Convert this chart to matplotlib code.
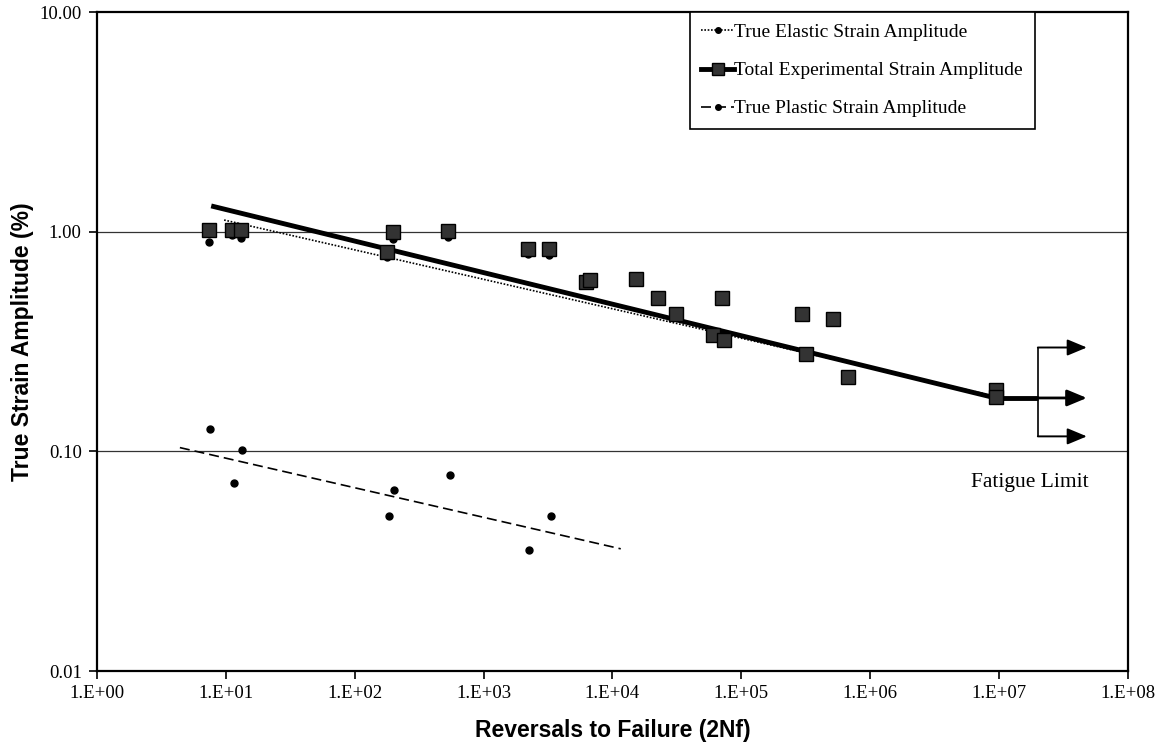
import numpy as np
import matplotlib
matplotlib.use("Agg")
import matplotlib.pyplot as plt
from matplotlib.lines import Line2D

# --- data ---------------------------------------------------------------------
total_N = [7.4, 11.1, 13.1, 178, 198, 527, 2210, 3210, 6200, 6650, 15200,
           22500, 31000, 60000, 70500, 73000, 295000, 320000, 513000, 670000,
           9.4e6, 9.4e6]
total_eps = [1.02, 1.02, 1.02, 0.81, 1.00, 1.01, 0.83, 0.83, 0.59, 0.60, 0.61,
             0.50, 0.42, 0.34, 0.50, 0.32, 0.42, 0.276, 0.40, 0.217,
             0.19, 0.176]

elastic_N = [7.4, 11.1, 13.1, 178, 198, 527, 2210, 3210]
elastic_eps = [0.90, 0.97, 0.94, 0.77, 0.93, 0.95, 0.79, 0.78]

plastic_N = [7.5, 11.5, 13.3, 184, 201, 548, 2240, 3320]
plastic_eps = [0.127, 0.072, 0.101, 0.051, 0.067, 0.078, 0.0355, 0.051]

# fitted lines (end points)
total_fit_N = [7.7, 9.4e6]
total_fit_eps = [1.31, 0.175]
elastic_fit_N = [9.7, 9.4e6]
elastic_fit_eps = [1.13, 0.178]
plastic_fit_N = [4.4, 11600]
plastic_fit_eps = [0.104, 0.036]

# fatigue-limit arrows
arrow_N0, arrow_N1 = 2.0e7, 4.8e7
arrow_eps = [0.297, 0.175, 0.117]

serif = ["Liberation Serif", "DejaVu Serif"]
sans = ["Liberation Sans", "DejaVu Sans"]

fig = plt.figure(figsize=(11.64, 7.51), dpi=100)
ax = fig.add_axes([0.0833, 0.1065, 0.8857, 0.8775])
ax.set_xscale("log")
ax.set_yscale("log")
ax.set_xlim(1, 1e8)
ax.set_ylim(0.01, 10)

# horizontal major gridlines
for g in [0.1, 1.0]:
    ax.axhline(g, color="#333333", lw=0.9, zorder=1)

# fit lines
ax.plot(elastic_fit_N, elastic_fit_eps, color="black", ls=(0, (1, 1)), lw=1.2, zorder=3)
ax.plot(total_fit_N, total_fit_eps, color="black", lw=3.5, solid_capstyle="butt", zorder=4)
ax.plot([total_fit_N[-1], arrow_N0], [total_fit_eps[-1]] * 2, color="black", lw=3.5,
        solid_capstyle="butt", zorder=4)
ax.plot(plastic_fit_N, plastic_fit_eps, color="black", ls=(0, (6, 3)), lw=1.2, zorder=3)

# data points
ax.plot(elastic_N, elastic_eps, "o", color="black", ms=5, zorder=5)
ax.plot(plastic_N, plastic_eps, "o", color="black", ms=5, zorder=5)
ax.plot(total_N, total_eps, "s", mfc="#333333", mec="black", mew=1, ms=9.5, zorder=6)

# fatigue limit arrows
ax.plot([arrow_N0, arrow_N0], [arrow_eps[0], arrow_eps[2]], color="black", lw=1.2, zorder=4)
for e in arrow_eps:
    ax.annotate("", xy=(arrow_N1, e), xytext=(arrow_N0, e),
                arrowprops=dict(arrowstyle="-|>,head_length=1.2,head_width=0.5",
                                color="black", lw=1.4 if e != 0.175 else 2.0,
                                shrinkA=0, shrinkB=0), zorder=5)
ax.text(5.0e7, 0.072, "Fatigue Limit", ha="right", va="center",
        fontsize=15.5, family=serif)

# axes styling
for s in ax.spines.values():
    s.set_linewidth(1.6)
    s.set_color("black")
ax.set_xticks([10.0 ** k for k in range(0, 9)])
ax.set_xticklabels([f"1.E+{k:02d}" for k in range(0, 9)])
ax.set_yticks([0.01, 0.1, 1, 10])
ax.set_yticklabels(["0.01", "0.10", "1.00", "10.00"])
ax.minorticks_off()
ax.tick_params(axis="both", which="major", direction="out", length=6, width=1.2,
               labelsize=13.5)
ax.tick_params(axis="x", pad=4)
ax.tick_params(axis="y", pad=5)
for lab in ax.get_xticklabels() + ax.get_yticklabels():
    lab.set_family(serif)

ax.set_xlabel("Reversals to Failure (2Nf)", fontsize=16.5, fontweight="bold",
              family=sans, labelpad=12)
ax.set_ylabel("True Strain Amplitude (%)", fontsize=16.5, fontweight="bold",
              family=sans, labelpad=4)

# legend
handles = [
    Line2D([], [], color="black", ls=(0, (1, 1)), lw=1.2, marker="o", ms=4,
           markevery=[1]),
    Line2D([], [], color="black", lw=3.5, marker="s", mfc="#333333", mec="black",
           ms=9, markevery=[1]),
    Line2D([], [], color="black", ls=(0, (6, 3)), lw=1.2, marker="o", ms=4,
           markevery=[1]),
]
labels = ["True Elastic Strain Amplitude", "Total Experimental Strain Amplitude",
          "True Plastic Strain Amplitude"]
leg = ax.legend(handles, labels, loc="upper left", bbox_to_anchor=(0.575, 1.0),
                frameon=True, fancybox=False, edgecolor="black", framealpha=1,
                prop={"family": serif, "size": 14}, handlelength=1.7,
                handletextpad=0.0, labelspacing=1.05, borderpad=0.6,
                borderaxespad=0)
leg.get_frame().set_linewidth(1.2)

fig.savefig("out.png", dpi=100)
